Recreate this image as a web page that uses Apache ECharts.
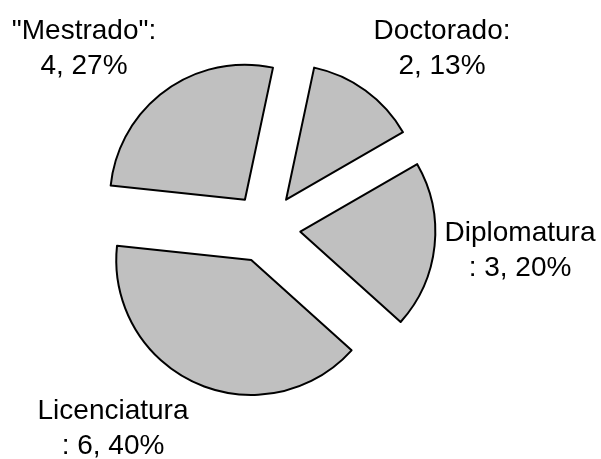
<!DOCTYPE html>
<html>
<head>
<meta charset="utf-8">
<script src="https://cdn.jsdelivr.net/npm/echarts@6/dist/echarts.min.js"></script>
<style>
  html, body { margin: 0; padding: 0; background: #fff; }
  #chart { width: 601px; height: 459px; }
</style>
</head>
<body>
<div id="chart"></div>
<script>
var names = ['Doctorado', 'Diplomatura', 'Licenciatura', '"Mestrado"']
var values = [2, 3, 6, 4]

// where each label centre sits, relative to the pie centre (px)
var labelOffsets = [[176.5, -179.5], [254.5, 23], [-152.5, 200.5], [-181.5, -179.5]]
var cx = 265.5, cy = 228
var startAngle = 78
var explode = 35

var pieData = []
for (let i = 0; i < names.length; i++) {
  pieData.push({ name: names[i], value: values[i], selected: true })
}

// the labels ride along with the exploded slice, so undo that shift
var total = values.reduce(function (a, b) { return a + b }, 0)
var shift = []
var acc = 0
for (let i = 0; i < values.length; i++) {
  var mid = (startAngle - 360 * (acc + values[i] / 2) / total) * Math.PI / 180
  shift.push([explode * Math.cos(mid), -explode * Math.sin(mid)])
  acc += values[i]
}

var sliceStyle = {
  color: '#c0c0c0',
  borderColor: '#000',
  borderWidth: 2
}

var chart = echarts.init(document.getElementById('chart'), null, { renderer: 'canvas' })
chart.setOption({
  backgroundColor: '#fff',
  animation: false,
  series: [{
    type: 'pie',
    center: [cx, cy],
    radius: [0, 135],
    startAngle: startAngle,
    clockwise: true,
    percentPrecision: 0,
    selectedMode: 'multiple',
    selectedOffset: explode,
    avoidLabelOverlap: false,
    itemStyle: sliceStyle,
    label: {
      show: true,
      position: 'outside',
      color: '#000',
      fontFamily: 'Liberation Sans',
      fontSize: 28,
      lineHeight: 35,
      formatter: function (p) {
        // long names break before the colon
        if (p.name.length > 10) {
          return p.name + '\n: ' + p.value + ', ' + p.percent + '%'
        }
        return p.name + ':\n' + p.value + ', ' + p.percent + '%'
      }
    },
    labelLine: { show: false },
    emphasis: { disabled: true },
    select: { itemStyle: sliceStyle },
    labelLayout: function (params) {
      var i = params.dataIndex
      var o = labelOffsets[i]
      var r = params.labelRect
      var ax = r.x + r.width / 2
      if (params.align === 'left') ax = r.x
      if (params.align === 'right') ax = r.x + r.width
      return {
        align: 'center',
        dx: cx + o[0] - ax - shift[i][0],
        dy: cy + o[1] - (r.y + r.height / 2) - shift[i][1]
      }
    },
    data: pieData
  }]
})
</script>
</body>
</html>
